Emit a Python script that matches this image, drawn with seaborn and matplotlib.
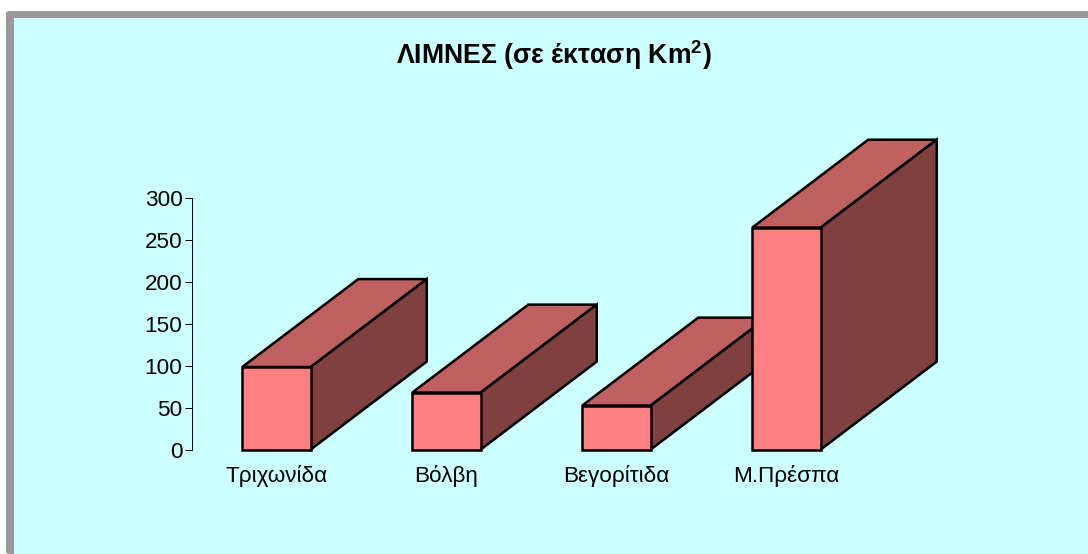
import pandas as pd
import seaborn as sns
import matplotlib.pyplot as plt
from matplotlib.patches import Polygon, Rectangle, FancyBboxPatch

lakes = ['Τριχωνίδα', 'Βόλβη', 'Βεγορίτιδα', 'Μ.Πρέσπα']
areas = [98.5, 68, 52.5, 265]
y_ticks = [0, 50, 100, 150, 200, 250, 300]

W, H = 1088, 554
sns.set_style('ticks')
plt.rcParams['font.family'] = ['Liberation Sans', 'DejaVu Sans']
plt.rcParams['mathtext.fontset'] = 'custom'
plt.rcParams['mathtext.bf'] = 'Liberation Sans:bold'
plt.rcParams['text.color'] = 'black'
plt.rcParams['xtick.labelcolor'] = 'black'
plt.rcParams['ytick.labelcolor'] = 'black'

fig = plt.figure(figsize=(W / 100, H / 100), dpi=100, facecolor='white')

# grey frame runs off the right and bottom edge of the picture
fig.add_artist(FancyBboxPatch((6 / W, 0), 1.1, 1 - 11 / H, boxstyle='round,pad=0,rounding_size=0.004',
                              transform=fig.transFigure, fc='#999999', ec='none', zorder=-2))
fig.add_artist(Rectangle((14 / W, 0), 1, 1 - 18 / H, transform=fig.transFigure, fc='#CCFFFF', ec='none', zorder=-1))

ax = fig.add_axes([191.5 / W, 1 - 449.5 / H, 680 / W, 251.2 / H])
ax.patch.set_alpha(0)

df = pd.DataFrame({'lake': lakes, 'area': areas})
sns.barplot(data=df, x='lake', y='area', color='#FF8080', saturation=1, width=0.403,
            edgecolor='black', linewidth=1.8, ax=ax)

ax.set_ylim(0, 300)
ax.set_yticks(y_ticks)
ax.set_xlabel('')
ax.set_ylabel('')
ax.tick_params(axis='y', length=5.4, width=0.7, pad=1, labelsize=16.2, color='black')
ax.tick_params(axis='x', length=0, pad=11, labelsize=16.2)
sns.despine(ax=ax, bottom=True)
ax.spines['left'].set_linewidth(0.7)
ax.spines['left'].set_color('black')

# depth of the fake 3d boxes, in data units
depth_x = 116 / 170
depth_y = 105

for i, bar in enumerate(ax.patches):
    x0 = bar.get_x()
    x1 = x0 + bar.get_width()
    top = bar.get_height()
    z = 3 + i * 2
    bar.set_zorder(z + 1)
    bar.set_clip_on(False)
    ax.add_patch(Polygon([(x0, top), (x0 + depth_x, top + depth_y), (x1 + depth_x, top + depth_y), (x1, top)],
                         fc='#BF6060', ec='black', lw=1.8, zorder=z, clip_on=False))
    ax.add_patch(Polygon([(x1, 0), (x1 + depth_x, depth_y), (x1 + depth_x, top + depth_y), (x1, top)],
                         fc='#804040', ec='black', lw=1.8, zorder=z, clip_on=False))

fig.text(554 / W, 1 - 55 / H, r'ΛΙΜΝΕΣ (σε έκταση Km$^{\mathbf{2}}$)', ha='center', va='center',
         fontsize=19.2, fontweight='bold')

fig.savefig('out.png', dpi=100)
